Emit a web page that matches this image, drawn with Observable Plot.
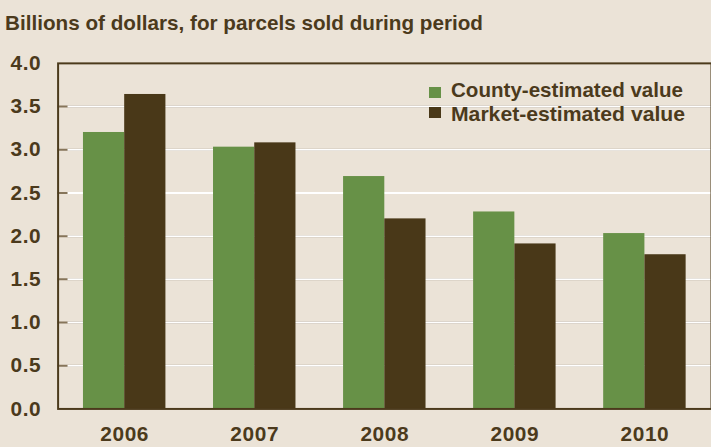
<!DOCTYPE html>
<html>
<head>
<meta charset="utf-8">
<script src="https://cdn.jsdelivr.net/npm/d3@7"></script>
<script src="https://cdn.jsdelivr.net/npm/@observablehq/plot@0.6"></script>
<style>
  html, body { margin: 0; padding: 0; }
  body { background: #ebe3d7; width: 711px; height: 447px; overflow: hidden; position: relative;
         font-family: "Liberation Sans", Arial, sans-serif; color: #4b3a1c; }
  .layer { position: absolute; left: 0; top: 45px; }
  #titleBox { position: absolute; left: 0; top: 0; }
  #legendBox { position: absolute; left: 0; top: 0; pointer-events: none; }
</style>
</head>
<body>
<svg id="titleBox" width="711" height="45"></svg>
<div id="backLayer" class="layer"></div>
<div id="middleLayer" class="layer"></div>
<div id="topLayer" class="layer"></div>
<svg id="legendBox" width="711" height="140"></svg>
<script>
const titleText = "Billions of dollars, for parcels sold during period";
const years = ["2006", "2007", "2008", "2009", "2010"];
const seriesNames = ["County-estimated value", "Market-estimated value"];
const countyValues = [3.20, 3.03, 2.69, 2.28, 2.03];
const marketValues = [3.64, 3.08, 2.20, 1.91, 1.785];
const yTicks = [0, 0.5, 1.0, 1.5, 2.0, 2.5, 3.0, 3.5, 4.0];
const seriesColors = ["#679147", "#493818"];

const data = years.flatMap((yr, i) => [
  {year: yr, series: seriesNames[0], value: countyValues[i]},
  {year: yr, series: seriesNames[1], value: marketValues[i]}
]);

const ink = "#4b3a1c";
const fontFamily = "'Liberation Sans', Arial, sans-serif";
const common = {
  width: 716,
  height: 402,
  marginLeft: 58,
  marginRight: 0,
  marginTop: 18,
  marginBottom: 36,
  style: {
    background: "transparent",
    fontFamily,
    fontSize: "21px",
    fontWeight: "bold",
    color: ink,
    overflow: "visible"
  }
};

// back layer: tick stubs and white gridlines
const backPlot = Plot.plot({
  ...common,
  y: {domain: [0, 4], label: null, axis: null},
  marks: [
    Plot.ruleY(yTicks.slice(1, -1), {stroke: "#86755a", strokeWidth: 2}),
    Plot.ruleY(yTicks.slice(1, -1), {stroke: "#ffffff", strokeOpacity: 1, strokeWidth: 2, insetLeft: 10})
  ]
});

// middle layer: grouped bars and year labels
const middlePlot = Plot.plot({
  ...common,
  fx: {domain: years, paddingInner: 0.366, paddingOuter: 0.195, round: false, label: null, axis: null},
  x: {domain: seriesNames, padding: 0, round: false, axis: null},
  y: {domain: [0, 4], label: null, axis: null},
  color: {domain: seriesNames, range: seriesColors},
  marks: [
    Plot.barY(data, {fx: "year", x: "series", y: "value", fill: "series", inset: 0}),
    Plot.axisFx({anchor: "bottom", tickSize: 0, tickPadding: 17, label: null, fill: ink})
  ]
});

// top layer: frame and y-axis labels
const topPlot = Plot.plot({
  ...common,
  y: {domain: [0, 4], label: null, axis: null},
  marks: [
    Plot.frame({stroke: ink, strokeWidth: 2}),
    Plot.axisY({ticks: yTicks, tickFormat: d3.format(".1f"), tickSize: 0, tickPadding: 17, label: null, fill: ink})
  ]
});

document.getElementById("backLayer").appendChild(backPlot);
document.getElementById("middleLayer").appendChild(middlePlot);
document.getElementById("topLayer").appendChild(topPlot);
d3.selectAll(".layer svg text").style("letter-spacing", "0.6px");

// title
d3.select("#titleBox").append("text")
  .attr("x", 5).attr("y", 30)
  .attr("textLength", 478).attr("lengthAdjust", "spacingAndGlyphs")
  .style("font-family", fontFamily).style("font-size", "21px").style("font-weight", "bold")
  .attr("fill", ink)
  .text(titleText);

// legend
const legendRows = [{swY: 87, baseY: 97, len: 232}, {swY: 107, baseY: 120.5, len: 234}];
const lg = d3.select("#legendBox");
seriesNames.forEach((name, i) => {
  lg.append("rect").attr("x", 429).attr("y", legendRows[i].swY).attr("width", 12).attr("height", 11).attr("fill", seriesColors[i]);
  lg.append("text")
    .attr("x", 451).attr("y", legendRows[i].baseY)
    .attr("textLength", legendRows[i].len).attr("lengthAdjust", "spacingAndGlyphs")
    .style("font-family", fontFamily).style("font-size", "21px").style("font-weight", "bold")
    .attr("fill", ink)
    .text(name);
});
</script>
</body>
</html>
